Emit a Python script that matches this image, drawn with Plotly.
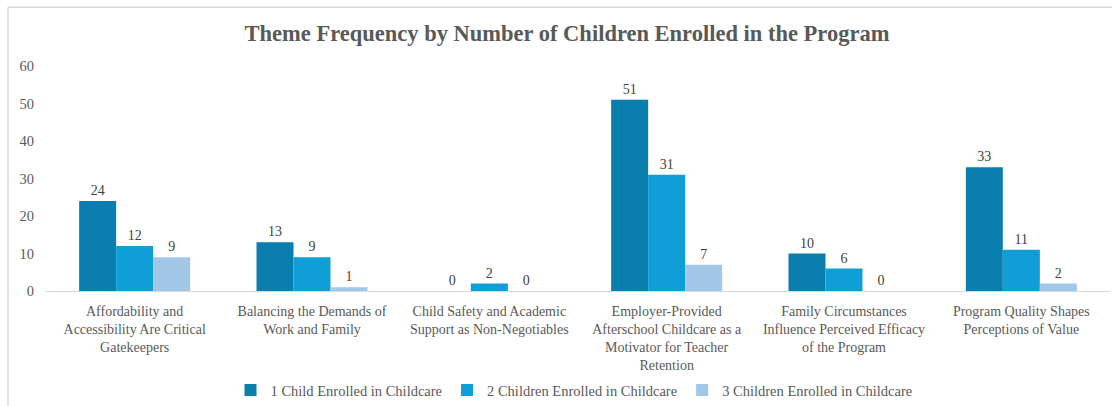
import plotly.graph_objects as go

categories = [
    "Affordability and<br>Accessibility Are Critical<br>Gatekeepers",
    "Balancing the Demands of<br>Work and Family",
    "Child Safety and Academic<br>Support as Non-Negotiables",
    "Employer-Provided<br>Afterschool Childcare as a<br>Motivator for Teacher<br>Retention",
    "Family Circumstances<br>Influence Perceived Efficacy<br>of the Program",
    "Program Quality Shapes<br>Perceptions of Value",
]
series_names = [
    "1 Child Enrolled in Childcare",
    "2 Children Enrolled in Childcare",
    "3 Children Enrolled in Childcare",
]
one_child = [24, 13, 0, 51, 10, 33]
two_children = [12, 9, 2, 31, 6, 11]
three_children = [9, 1, 0, 7, 0, 2]
colors = ["#0A7EAC", "#0F9ED6", "#A2C7E7"]

FONT = "Liberation Serif"

fig = go.Figure()
for name, vals, col in zip(series_names, [one_child, two_children, three_children], colors):
    fig.add_trace(go.Bar(
        x=categories, y=vals, name=name,
        marker=dict(color=col, line=dict(width=0)),
        text=[str(v) for v in vals], textposition="outside",
        textfont=dict(family=FONT, size=14, color="#404040"),
        cliponaxis=False,
    ))

L, R, T, B = 46, 2, 66, 114
W, H = 1112, 406
pw, ph = W - L - R, H - T - B

def px_x(px):
    return (px - L) / pw

def px_y(py):
    return (H - B - py) / ph

fig.update_layout(
    width=W, height=H,
    margin=dict(l=L, r=R, t=T, b=B),
    paper_bgcolor="white", plot_bgcolor="white",
    barmode="group", bargap=0.374, bargroupgap=0,
    font=dict(family=FONT, color="#595959", size=14),
    title=dict(
        text="<b>Theme Frequency by Number of Children Enrolled in the Program</b>",
        x=567 / W, xanchor="center", y=1 - 33 / H, yanchor="middle",
        font=dict(family=FONT, size=22.5, color="#595959"),
    ),
    xaxis=dict(
        showline=True, linecolor="#D9D9D9", linewidth=1,
        ticks="", tickfont=dict(family=FONT, size=14, color="#595959"),
        showgrid=False, ticklabelstandoff=7,
    ),
    yaxis=dict(
        range=[0, 60], dtick=10, showgrid=False, zeroline=False, showline=False,
        ticks="", tickfont=dict(family=FONT, size=14.5, color="#595959"),
        ticklabelstandoff=11,
    ),
    legend=dict(
        orientation="h", x=px_x(574), xanchor="center", y=px_y(390), yanchor="middle",
        font=dict(family=FONT, size=14.5, color="#595959"),
        traceorder="normal", itemwidth=30,
    ),
    shapes=[
        dict(type="line", xref="paper", yref="paper",
             x0=px_x(8), x1=px_x(8), y0=px_y(410), y1=px_y(7),
             line=dict(color="#D9D9D9", width=1.5)),
        dict(type="line", xref="paper", yref="paper",
             x0=px_x(8), x1=px_x(1115), y0=px_y(7), y1=px_y(7),
             line=dict(color="#D9D9D9", width=1.5)),
    ],
)

fig.write_html("out.html")
